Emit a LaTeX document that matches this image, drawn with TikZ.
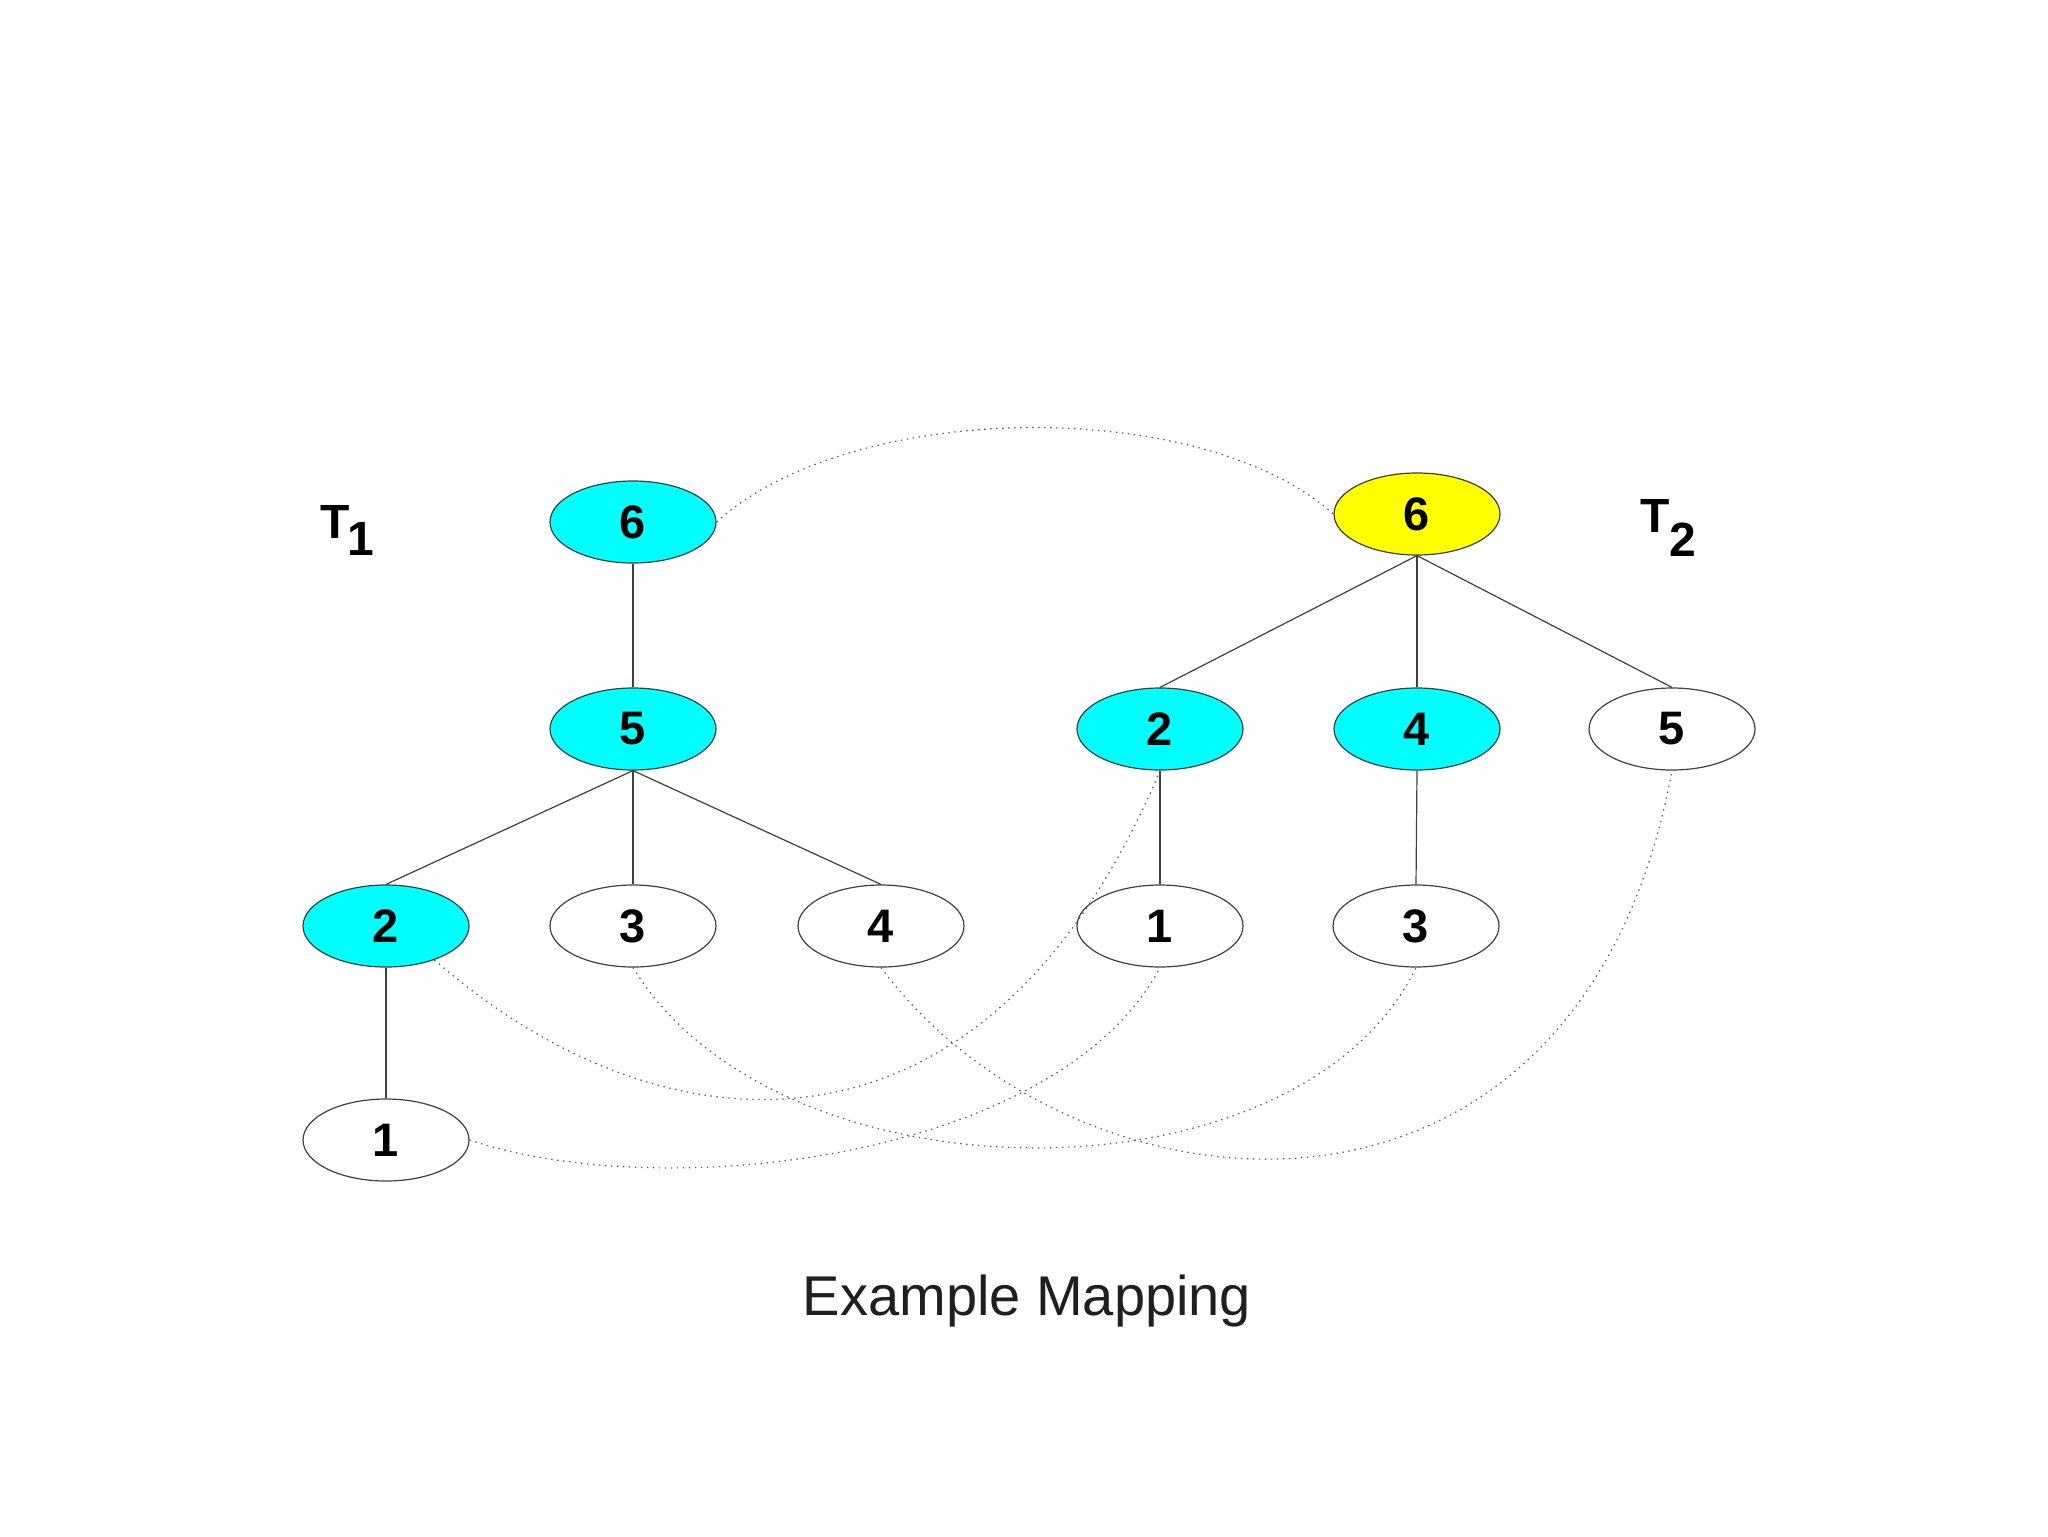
\documentclass[tikz,border=0pt]{standalone}
\usepackage{fontspec}
\setmainfont{Liberation Sans}
\usetikzlibrary{shapes.geometric}
\definecolor{nodecyan}{HTML}{00FFFF}
\definecolor{nodeyellow}{HTML}{FFFF00}
\begin{document}
\begin{tikzpicture}[x=0.5pt,y=-0.5pt,
  tnode/.style={ellipse,draw=black!75,line width=0.6pt,fill=white,
    minimum width=83pt,minimum height=41pt,inner sep=0pt,
    font=\fontsize{23.5}{23.5}\selectfont\bfseries},
  cy/.style={tnode,fill=nodecyan},
  ye/.style={tnode,fill=nodeyellow},
  edge/.style={draw=black!75,line width=0.6pt},
  map/.style={draw=black!65,line width=0.6pt,dash pattern=on 0.7pt off 2.3pt},
  tlabel/.style={anchor=base west,inner sep=0pt,font=\fontsize{24}{24}\selectfont\bfseries},
  caption/.style={anchor=base,inner sep=0pt,text=black!88,font=\fontsize{28}{28}\selectfont}]
\useasboundingbox[fill=white] (0,0) rectangle (2048,1536);

% T1
\node[cy] (a6) at (633,522) {6};
\node[cy] (a5) at (633,729) {5};
\node[cy] (a2) at (386,926) {2};
\node[tnode] (a3) at (633,926) {3};
\node[tnode] (a4) at (881,926) {4};
\node[tnode] (a1) at (386,1140) {1};

% T2
\node[ye] (b6) at (1417,514) {6};
\node[cy] (b2) at (1160,729) {2};
\node[cy] (b4) at (1417,729) {4};
\node[tnode] (b5) at (1672,729) {5};
\node[tnode] (b1) at (1160,926) {1};
\node[tnode] (b3) at (1416,926) {3};

% labels
\node[tlabel] (t1) at (320,538) {T\kern-1pt\raisebox{-8.5pt}{1}};
\node[tlabel] (t2) at (1640,532) {T\raisebox{-12pt}{2}};
\node[caption] (cap) at (1027,1315) {Example Mapping};

% tree edges
\draw[edge] (a6.south) -- (a5.north);
\draw[edge] (a5.south) -- (a2.north);
\draw[edge] (a5.south) -- (a3.north);
\draw[edge] (a5.south) -- (a4.north);
\draw[edge] (a2.south) -- (a1.north);
\draw[edge] (b6.south) -- (b2.north);
\draw[edge] (b6.south) -- (b4.north);
\draw[edge] (b6.south) -- (b5.north);
\draw[edge] (b2.south) -- (b1.north);
\draw[edge] (b4.south) -- (b3.north);

% mapping
\draw[map] (a6.east) .. controls (850,400) and (1200,395) .. (b6.west);
\draw[map] (a2.-35) .. controls (663,1160) and (986,1184) .. (b2.south);
\draw[map] (a3.south) .. controls (780,1208) and (1300,1208) .. (b3.south);
\draw[map] (a4.south) .. controls (1072,1225) and (1578,1280) .. (b5.south);
\draw[map] (a1.east) .. controls (663,1205) and (1058,1160) .. (b1.south);
\end{tikzpicture}
\end{document}
